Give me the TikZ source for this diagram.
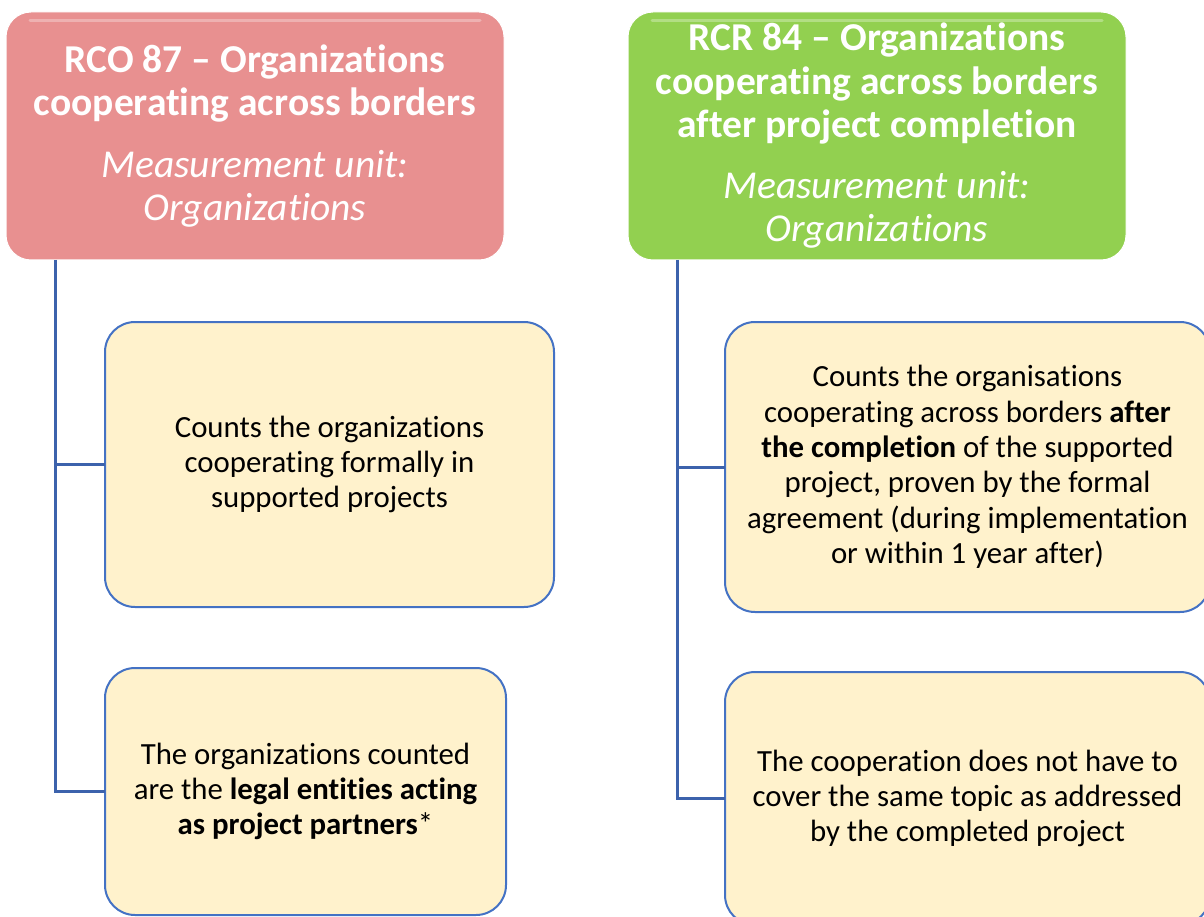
\documentclass[tikz,border=0pt]{standalone}
\usepackage{fontspec}
\setmainfont{Carlito}[Ligatures=NoCommon]
\definecolor{redfill}{RGB}{232,144,144}
\definecolor{greenfill}{RGB}{146,208,80}
\definecolor{boxfill}{RGB}{255,242,204}
\definecolor{boxline}{RGB}{68,114,196}
\definecolor{connline}{RGB}{60,98,172}
\begin{document}
\begin{tikzpicture}[x=1pt,y=-1pt,
  hdr/.style={rectangle, rounded corners=25pt, draw=white, line width=1pt, text=white,
    align=center, inner sep=0pt, outer sep=0pt, font=\fontsize{39.5}{43.5}\selectfont},
  infobox/.style={rectangle, rounded corners=30pt, draw=boxline, line width=2pt, fill=boxfill,
    align=center, inner sep=0pt, outer sep=0pt, font=\fontsize{30.8}{35.4}\selectfont},
  conn/.style={draw=connline, line width=3pt}]
\useasboundingbox (0,0) rectangle (1204,917);
\clip (0,0) rectangle (1204,917);
% headers
\node[hdr, fill=redfill, minimum width=498pt, minimum height=248pt] (rco) at (255,136)
  {\textbf{RCO 87 – Organizations}\\\textbf{cooperating across borders}\\[18pt]
   \textit{Measurement unit:}\\\textit{Organizations}};
\node[hdr, fill=greenfill, minimum width=498pt, minimum height=248pt] (rcr) at (877,136)
  {\textbf{RCR 84 – Organizations}\\\textbf{cooperating across borders}\\\textbf{after project completion}\\[17pt]
   \textit{Measurement unit:}\\\textit{Organizations}};
% gloss highlights
\draw[white, opacity=0.3, line width=3pt, line cap=round] (30,21) -- (480,21);
\draw[white, opacity=0.3, line width=3pt, line cap=round] (652,21) -- (1102,21);
% info boxes
\node[infobox, minimum width=449pt, minimum height=285pt] (l1) at (329.5,464.5)
  {Counts the organizations\\cooperating formally in\\supported projects};
\node[infobox, minimum width=401pt, minimum height=247pt] (l2) at (305.5,791.5)
  {The organizations counted\\are the \textbf{legal entities acting}\\\textbf{as project partners}*};
\node[infobox, minimum width=485pt, minimum height=290pt] (r1) at (967.5,467)
  {Counts the organisations\\cooperating across borders \textbf{after}\\\textbf{the completion} of the supported\\project, proven by the formal\\agreement (during implementation\\or within 1 year after)};
\node[infobox, minimum width=485pt, minimum height=253pt] (r2) at (967.5,798.5)
  {The cooperation does not have to\\cover the same topic as addressed\\by the completed project};
% connectors
\coordinate (lt) at ([xshift=49pt]rco.south west);
\coordinate (rt) at ([xshift=49pt]rcr.south west);
\draw[conn] (lt) -- (lt |- l2.west) -- (l2.west);
\draw[conn] (lt |- l1.west) -- (l1.west);
\draw[conn] (rt) -- (rt |- r2.west) -- (r2.west);
\draw[conn] (rt |- r1.west) -- (r1.west);
\end{tikzpicture}
\end{document}
